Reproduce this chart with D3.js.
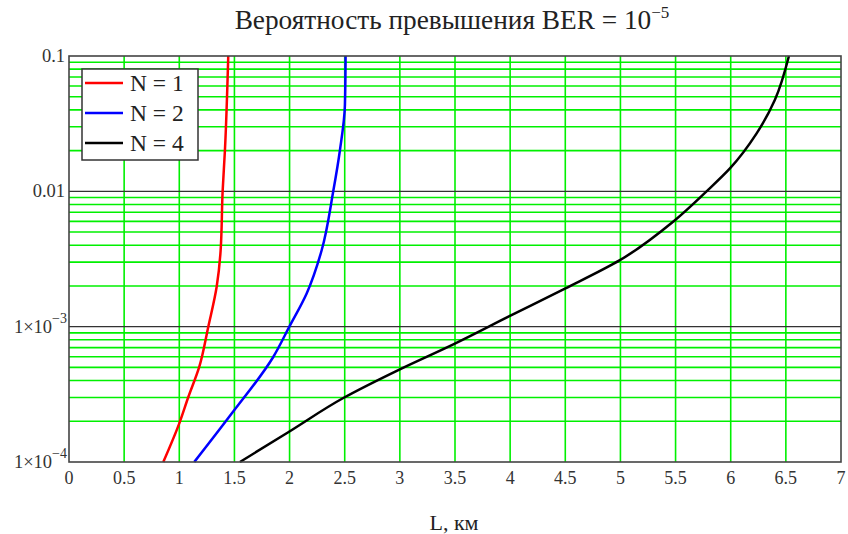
<!DOCTYPE html>
<html>
<head>
<meta charset="utf-8">
<script src="https://cdn.jsdelivr.net/npm/d3@7"></script>
<style>
  body { margin: 0; background: #fff; }
</style>
</head>
<body>
<div id="chart"></div>
<script>
// data
const xTicks = [0, 0.5, 1, 1.5, 2, 2.5, 3, 3.5, 4, 4.5, 5, 5.5, 6, 6.5, 7];
const yDecades = [1e-4, 1e-3, 1e-2, 1e-1];
const yTickLabels = [["1×10", "−4"], ["1×10", "−3"], ["0.01", ""], ["0.1", ""]];

const lenN1 = [0.855, 1.0, 1.082, 1.181, 1.263, 1.339, 1.375, 1.393, 1.414, 1.444];
const berN1 = [1e-4, 1.93e-4, 3.02e-4, 5.04e-4, 1e-3, 1.97e-3, 3.67e-3, 1e-2, 2.02e-2, 1e-1];

const lenN2 = [1.136, 1.475, 1.852, 1.998, 2.155, 2.291, 2.396, 2.457, 2.502, 2.508];
const berN2 = [1e-4, 2.28e-4, 5.97e-4, 1e-3, 1.76e-3, 3.67e-3, 1e-2, 2.02e-2, 4.35e-2, 1e-1];

const lenN4 = [1.55, 1.988, 2.487, 3.0, 3.485, 3.998, 4.497, 4.995, 5.494, 5.781, 5.993, 6.235, 6.40, 6.528];
const berN4 = [1e-4, 1.66e-4, 2.97e-4, 4.84e-4, 7.4e-4, 1.2e-3, 1.91e-3, 3.10e-3, 6.12e-3, 1e-2, 1.476e-2, 2.68e-2, 4.73e-2, 1e-1];

const seriesNames = ["N = 1", "N = 2", "N = 4"];
const seriesColors = ["#ff0000", "#0000ff", "#000000"];

const width = 848, height = 534;
const plotLeft = 69, plotRight = 841, plotTop = 56, plotBottom = 462;

const svg = d3.select('#chart')
    .append('svg')
    .attr('width', width)
    .attr('height', height)
    .attr('font-family', '"Liberation Serif", "Times New Roman", serif');

const x = d3.scaleLinear().domain([0, 7]).range([plotLeft, plotRight]);
const y = d3.scaleLog().domain([1e-4, 0.1]).range([plotBottom, plotTop]);

// minor log grid (green)
const minor = [];
yDecades.slice(0, 3).forEach(d => {
    for (let k = 2; k <= 9; k++) minor.push(d * k);
});
svg.append('g').selectAll('line')
    .data(minor)
    .join('line')
    .attr('x1', plotLeft).attr('x2', plotRight)
    .attr('y1', d => y(d)).attr('y2', d => y(d))
    .attr('stroke', '#00f000')
    .attr('stroke-width', 1.6);

// vertical grid
svg.append('g').selectAll('line')
    .data(xTicks.slice(1, -1))
    .join('line')
    .attr('x1', d => x(d)).attr('x2', d => x(d))
    .attr('y1', plotTop).attr('y2', plotBottom)
    .attr('stroke', '#00f000')
    .attr('stroke-width', 1.6);

// decade lines
svg.append('g').selectAll('line')
    .data(yDecades.slice(1, 3))
    .join('line')
    .attr('x1', plotLeft).attr('x2', plotRight)
    .attr('y1', d => y(d)).attr('y2', d => y(d))
    .attr('stroke', '#333')
    .attr('stroke-width', 1.2);

// curves
const line = d3.line()
    .x(d => x(d[0]))
    .y(d => y(d[1]))
    .curve(d3.curveMonotoneY);

const series = [
    d3.zip(lenN1, berN1),
    d3.zip(lenN2, berN2),
    d3.zip(lenN4, berN4)
];

series.forEach((pts, i) => {
    svg.append('path')
        .attr('d', line(pts))
        .attr('fill', 'none')
        .attr('stroke', seriesColors[i])
        .attr('stroke-width', 2.5);
});

// frame
svg.append('rect')
    .attr('x', plotLeft).attr('y', plotTop)
    .attr('width', plotRight - plotLeft).attr('height', plotBottom - plotTop)
    .attr('fill', 'none')
    .attr('stroke', '#444')
    .attr('stroke-width', 1.6);

// x tick labels
svg.append('g').selectAll('text')
    .data(xTicks)
    .join('text')
    .attr('x', d => x(d))
    .attr('y', 484)
    .attr('text-anchor', 'middle')
    .attr('font-size', 18)
    .attr('fill', '#333')
    .text(d => d);

// y tick labels
yDecades.forEach((d, i) => {
    const sup = yTickLabels[i][1];
    const t = svg.append('text')
        .attr('x', sup ? 67 : 65)
        .attr('y', y(d) + 6)
        .attr('text-anchor', 'end')
        .attr('font-size', 18.5)
        .attr('fill', '#333');
    t.append('tspan').text(yTickLabels[i][0]);
    if (sup) {
        t.append('tspan')
            .attr('dy', -10)
            .attr('font-size', 14)
            .text(sup);
    }
});

// title
const title = svg.append('text')
    .attr('x', 452)
    .attr('y', 29)
    .attr('text-anchor', 'middle')
    .attr('font-size', 27.3)
    .attr('fill', '#222');
title.append('tspan').text('Вероятность превышения BER = 10');
title.append('tspan').attr('dy', -11).attr('font-size', 17).text('−5');

// x axis label
svg.append('text')
    .attr('x', 454)
    .attr('y', 530)
    .attr('text-anchor', 'middle')
    .attr('font-size', 22)
    .attr('fill', '#222')
    .text('L, км');

// legend
const legend = svg.append('g');
legend.append('rect')
    .attr('x', 82).attr('y', 69)
    .attr('width', 116).attr('height', 91)
    .attr('fill', '#fff')
    .attr('stroke', '#333')
    .attr('stroke-width', 1.5);

seriesNames.forEach((name, i) => {
    const ly = 83 + i * 30;
    legend.append('line')
        .attr('x1', 85).attr('x2', 123)
        .attr('y1', ly).attr('y2', ly)
        .attr('stroke', seriesColors[i])
        .attr('stroke-width', 2.5);
    legend.append('text')
        .attr('x', 130)
        .attr('y', ly + 8)
        .attr('font-size', 23.5)
        .attr('fill', '#222')
        .text(name);
});
</script>
</body>
</html>
